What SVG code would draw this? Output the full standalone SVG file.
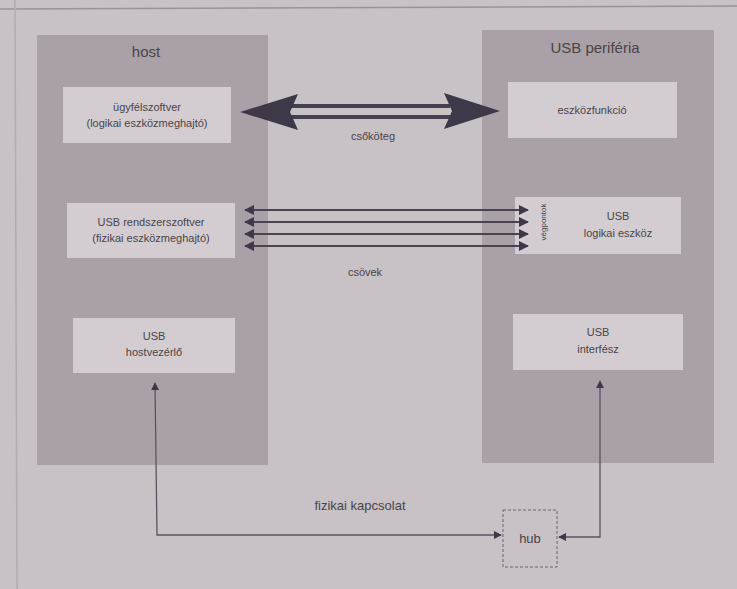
<svg xmlns="http://www.w3.org/2000/svg" width="737" height="589" viewBox="0 0 737 589">
<defs>
<style>
.bg{fill:#c8c1c6}
.panel{fill:#a9a1a7}
.box{fill:#d3cdd1}
.t{font-family:"Liberation Sans",Arial,sans-serif;fill:#4a4448;text-anchor:middle}
.s{font-size:11px}
.m{font-size:13px}
.big{font-size:15px}
.ln{stroke:#4a4450;stroke-width:2.2;fill:none}
.thin{stroke:#5a5460;stroke-width:1.3;fill:none}
</style>
<marker id="ah" viewBox="0 0 10 10" refX="9" refY="5" markerWidth="8" markerHeight="8" markerUnits="userSpaceOnUse" orient="auto-start-reverse"><path d="M0,0 L10,5 L0,10 z" fill="#3e3848"/></marker>
<marker id="ah2" viewBox="0 0 10 10" refX="9" refY="5" markerWidth="10" markerHeight="10" markerUnits="userSpaceOnUse" orient="auto-start-reverse"><path d="M0,0 L10,5 L0,10 z" fill="#3e3848"/></marker>
</defs>
<rect class="bg" x="0" y="0" width="737" height="589"/>
<line x1="0" y1="9" x2="737" y2="6" stroke="#9a929a" stroke-width="1.5"/>
<line x1="15" y1="0" x2="17" y2="589" stroke="#b3abb2" stroke-width="1.5"/>

<g id="host">
<rect class="panel" x="37" y="35" width="231" height="430"/>
<text class="t big" x="146" y="57">host</text>
</g>
<g id="periferia">
<rect class="panel" x="482" y="30" width="232" height="433"/>
<text class="t big" x="595" y="53">USB periféria</text>
</g>

<g id="ugyfelszoftver">
<rect class="box" x="63" y="87" width="168" height="56"/>
<text class="t s" x="147" y="111">ügyfélszoftver</text>
<text class="t s" x="147" y="127">(logikai eszközmeghajtó)</text>
</g>
<g id="rendszerszoftver">
<rect class="box" x="67" y="203" width="168" height="55"/>
<text class="t s" x="151" y="226">USB rendszerszoftver</text>
<text class="t s" x="151" y="242">(fizikai eszközmeghajtó)</text>
</g>
<g id="hostvezerlo">
<rect class="box" x="73" y="318" width="162" height="55"/>
<text class="t s" x="154" y="340">USB</text>
<text class="t s" x="154" y="356">hostvezérlő</text>
</g>

<g id="eszkozfunkcio">
<rect class="box" x="508" y="82" width="169" height="56"/>
<text class="t s" x="592" y="114">eszközfunkció</text>
</g>
<g id="logikai">
<rect class="box" x="515" y="197" width="166" height="57"/>
<text class="t s" x="618" y="220">USB</text>
<text class="t s" x="618" y="237">logikai eszköz</text>
<text class="t" font-size="8" transform="translate(546,222) rotate(-90)">végpontok</text>
</g>
<g id="interfesz">
<rect class="box" x="513" y="314" width="170" height="56"/>
<text class="t s" x="598" y="336">USB</text>
<text class="t s" x="598" y="353">interfész</text>
</g>

<g id="hub">
<rect x="503" y="510" width="54" height="57" fill="none" stroke="#6a6470" stroke-width="1" stroke-dasharray="3,2"/>
<text class="t m" x="530" y="543">hub</text>
</g>

<g id="connectors">
<line x1="290" y1="106" x2="450" y2="106" stroke="#463f4e" stroke-width="4"/>
<line x1="290" y1="117" x2="450" y2="117" stroke="#463f4e" stroke-width="4"/>
<path d="M240,112 L298,94 L290,112 L298,130 z" fill="#3e3848"/>
<path d="M500,111 L444,93 L452,111 L444,129 z" fill="#3e3848"/>
<text class="t s" x="373" y="140">csőköteg</text>

<line class="ln" x1="245" y1="210" x2="528" y2="210" marker-start="url(#ah2)" marker-end="url(#ah2)"/>
<line class="ln" x1="245" y1="222" x2="528" y2="222" marker-start="url(#ah2)" marker-end="url(#ah2)"/>
<line class="ln" x1="245" y1="234" x2="528" y2="234" marker-start="url(#ah2)" marker-end="url(#ah2)"/>
<line class="ln" x1="245" y1="246" x2="528" y2="246" marker-start="url(#ah2)" marker-end="url(#ah2)"/>
<text class="t s" x="365" y="276">csövek</text>

<path class="thin" d="M155,383 L157,535 L501,535" marker-start="url(#ah)" marker-end="url(#ah)"/>
<path class="thin" d="M600,381 L600,537 L559,537" marker-start="url(#ah)" marker-end="url(#ah)"/>
<text class="t m" x="360" y="510">fizikai kapcsolat</text>
</g>
</svg>
